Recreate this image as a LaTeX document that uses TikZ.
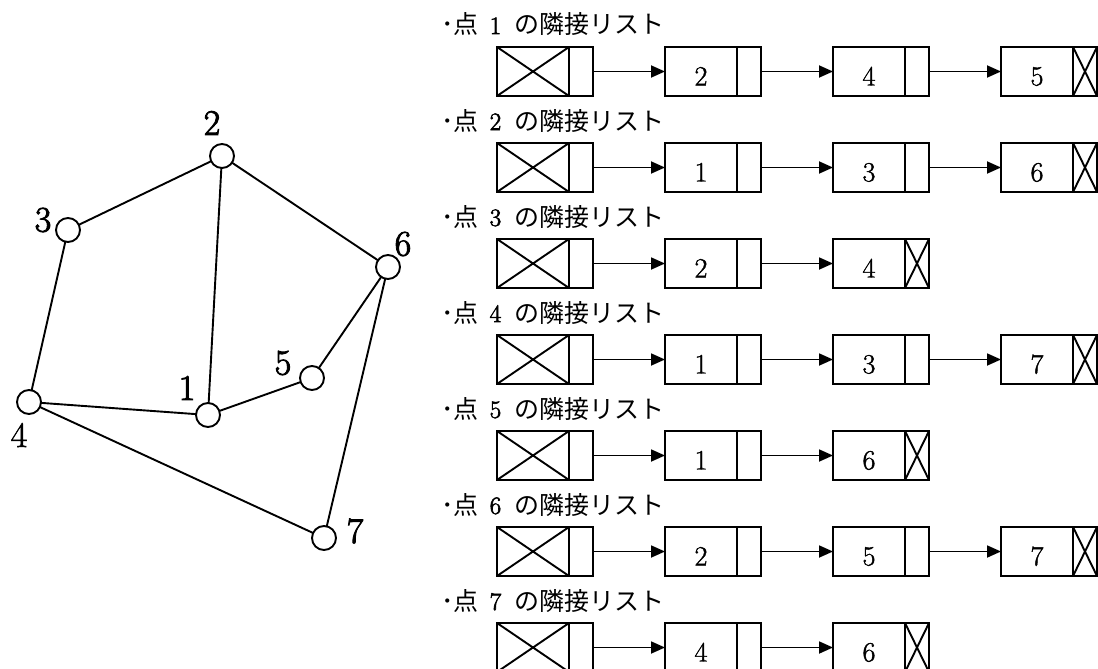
\documentclass[tikz,border=0pt]{standalone}
\usepackage{fontspec}
\newfontfamily\jp{Noto Sans CJK JP}
\usetikzlibrary{arrows.meta}
% text drawn with fill and outline stroke, for a heavier look
\newcommand\heavytext[2]{\special{pdf:literal direct 2 Tr #1 w}#2\special{pdf:literal direct 0 Tr 0.4 w}}
\begin{document}
\begin{tikzpicture}[x=1pt,y=-1pt,
  every node/.style={inner sep=0pt, outer sep=0pt},
  ln/.style={line width=1.9pt},
  vtx/.style={circle, draw, line width=1.9pt, fill=white, minimum size=24pt},
  vlabel/.style={font=\fontsize{36}{40}\selectfont},
  title/.style={font=\fontsize{25}{28}\selectfont, anchor=base west},
  cell/.style={draw, line width=2pt, minimum width=72pt, minimum height=49pt,
    font=\fontsize{28}{30}\selectfont,
    text height=28pt, text depth=0pt},
  ptr/.style={draw, line width=2pt, minimum width=24pt, minimum height=49pt},
  arr/.style={line width=1.8pt, -{Triangle[length=14pt,width=12pt]}},
  ]
\useasboundingbox (0,0) rectangle (1098,669);

% ---- graph ----
\node[vtx] (n1) at (208,415) {};
\node[vtx] (n2) at (222,156) {};
\node[vtx] (n3) at (68,230) {};
\node[vtx] (n4) at (29,402) {};
\node[vtx] (n5) at (312,378) {};
\node[vtx] (n6) at (388,267) {};
\node[vtx] (n7) at (324,538) {};

\draw[ln] (n2) -- (n3);
\draw[ln] (n2) -- (n1);
\draw[ln] (n2) -- (n6);
\draw[ln] (n3) -- (n4);
\draw[ln] (n4) -- (n1);
\draw[ln] (n1) -- (n5);
\draw[ln] (n5) -- (n6);
\draw[ln] (n6) -- (n7);
\draw[ln] (n4) -- (n7);

\node[vlabel] (l1) at (187,388) {\heavytext{0.9}{1}};
\node[vlabel] (l2) at (212,123) {\heavytext{0.9}{2}};
\node[vlabel] (l3) at (43,220) {\heavytext{0.9}{3}};
\node[vlabel] (l4) at (19,435) {\heavytext{0.5}{4}};
\node[vlabel] (l5) at (283,363) {\heavytext{0.9}{5}};
\node[vlabel] (l6) at (403,244) {\heavytext{0.9}{6}};
\node[vlabel] (l7) at (355,531) {\heavytext{0.9}{7}};

% ---- adjacency lists ----
\foreach \r/\n/\lst in {1/3/{2,4,5},2/3/{1,3,6},3/2/{2,4},4/3/{1,3,7},
                        5/2/{1,6},6/3/{2,5,7},7/2/{4,6}} {
  \pgfmathsetmacro\yc{71.5+96*(\r-1)}
  \pgfmathsetmacro\yt{34+96*(\r-1)}
  \node[title] (t\r) at (441,\yt)
    {{\jp ･点}\hspace{0.45em}\heavytext{0.6}{\r}\hspace{0.55em}{\jp の隣接リスト}};
  % list head
  \node[cell] (h\r) at (533,\yc) {};
  \node[ptr] (p\r-0) at (581,\yc) {};
  \draw[ln] (h\r.north west) -- (h\r.south east)
            (h\r.south west) -- (h\r.north east);
  % list cells
  \foreach \v [count=\k] in \lst {
    \pgfmathsetmacro\xd{701+168*(\k-1)}
    \pgfmathsetmacro\xp{749+168*(\k-1)}
    \pgfmathtruncatemacro\prev{\k-1}
    \node[cell] (d\r-\k) at (\xd,\yc) {\heavytext{0.4}{\v}};
    \node[ptr] (p\r-\k) at (\xp,\yc) {};
    \draw[arr] (p\r-\prev.east) -- (d\r-\k.west);
  }
  % null pointer at the tail
  \draw[ln] (p\r-\n.north west) -- (p\r-\n.south east)
            (p\r-\n.south west) -- (p\r-\n.north east);
}
\end{tikzpicture}
\end{document}
